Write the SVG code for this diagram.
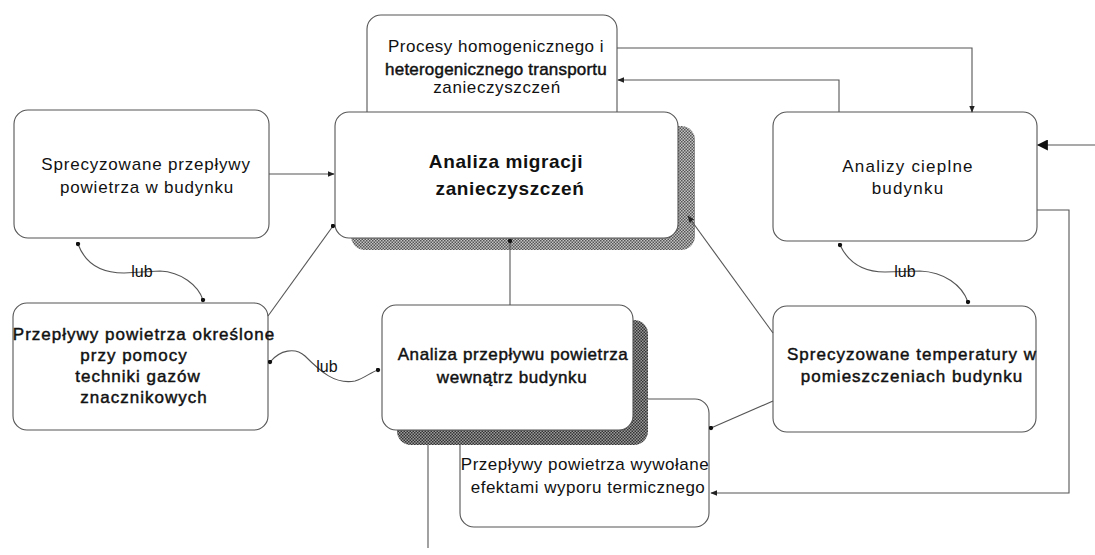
<svg xmlns="http://www.w3.org/2000/svg" width="1095" height="555" viewBox="0 0 1095 555">
  <style>
    .box { fill: #ffffff; stroke: #555555; stroke-width: 1.1; }
    .t { font-family: "Liberation Sans", Arial, sans-serif; font-size: 17px; fill: #111111; text-anchor: middle; letter-spacing: 0.6px; }
    .b { stroke: #111111; stroke-width: 0.45px; }
    .big { font-size: 19px; font-weight: bold; letter-spacing: 0.6px; }
    .lub { font-family: "Liberation Sans", Arial, sans-serif; font-size: 16px; fill: #111111; text-anchor: middle; }
    .ln { fill: none; stroke: #555555; stroke-width: 1.1; }
  </style>
  <defs>
    <pattern id="hatchLight" width="3" height="3" patternUnits="userSpaceOnUse">
      <rect width="3" height="3" fill="#c4c4c4"/>
      <rect x="0" y="0" width="1.5" height="1.5" fill="#555555"/>
      <rect x="1.5" y="1.5" width="1.5" height="1.5" fill="#555555"/>
    </pattern>
    <pattern id="hatchDark" width="3" height="3" patternUnits="userSpaceOnUse">
      <rect width="3" height="3" fill="#9a9a9a"/>
      <rect x="0" y="0" width="1.5" height="1.5" fill="#333333"/>
      <rect x="1.5" y="1.5" width="1.5" height="1.5" fill="#333333"/>
    </pattern>
    <marker id="dot" viewBox="0 0 6 6" refX="3" refY="3" markerWidth="5" markerHeight="5" markerUnits="userSpaceOnUse">
      <circle cx="3" cy="3" r="2.6" fill="#111"/>
    </marker>
    <marker id="arr" viewBox="0 0 10 10" refX="9" refY="5" markerWidth="7" markerHeight="7" markerUnits="userSpaceOnUse" orient="auto">
      <path d="M0,1 L10,5 L0,9 z" fill="#222"/>
    </marker>
    <marker id="arrBig" viewBox="0 0 10 10" refX="9" refY="5" markerWidth="13" markerHeight="11" markerUnits="userSpaceOnUse" orient="auto">
      <path d="M0,0 L10,5 L0,10 z" fill="#111"/>
    </marker>
  </defs>

  <rect width="1095" height="555" fill="#ffffff"/>

  <!-- transport processes (partly covered by the main node) -->
  <g id="node-procesy">
    <rect class="box" x="367" y="15" width="250" height="120" rx="14"/>
    <text class="t" x="496" y="52" style="letter-spacing:0.5px">Procesy homogenicznego i</text>
    <text class="t b" x="496" y="75" style="letter-spacing:0.2px">heterogenicznego transportu</text>
    <text class="t" x="497" y="93">zanieczyszczeń</text>
  </g>

  <!-- main node -->
  <g id="node-analiza-migracji">
    <rect x="351" y="126" width="344" height="124" rx="14" fill="url(#hatchLight)"/>
    <rect class="box" x="335" y="112" width="343" height="126" rx="14"/>
    <text class="t big" x="506" y="168">Analiza migracji</text>
    <text class="t big" x="510" y="195">zanieczyszczeń</text>
  </g>

  <g id="node-sprecyzowane-przeplywy">
    <rect class="box" x="14" y="110" width="255" height="128" rx="14"/>
    <text class="t" x="146" y="170" style="letter-spacing:0.8px">Sprecyzowane przepływy</text>
    <text class="t" x="147" y="193" style="letter-spacing:0.8px">powietrza w budynku</text>
  </g>

  <g id="node-analizy-cieplne">
    <rect class="box" x="773" y="112" width="264" height="129" rx="14"/>
    <text class="t" x="908" y="172" style="letter-spacing:1.2px">Analizy cieplne</text>
    <text class="t" x="908" y="194" style="letter-spacing:1.2px">budynku</text>
  </g>

  <g id="node-przeplywy-gazy">
    <rect class="box" x="13" y="303" width="255" height="127" rx="14"/>
    <text class="t b" x="144" y="340" style="letter-spacing:1px">Przepływy powietrza określone</text>
    <text class="t b" x="134" y="361" style="letter-spacing:1px">przy pomocy</text>
    <text class="t b" x="138" y="382" style="letter-spacing:1px">techniki gazów</text>
    <text class="t b" x="144" y="403" style="letter-spacing:1px">znacznikowych</text>
  </g>

  <g id="node-sprecyzowane-temperatury">
    <rect class="box" x="773" y="306" width="263" height="126" rx="14"/>
    <text class="t b" x="912" y="360" style="letter-spacing:1px">Sprecyzowane temperatury w</text>
    <text class="t b" x="912" y="382" style="letter-spacing:1px">pomieszczeniach budynku</text>
  </g>

  <!-- buoyancy flows (partly covered by the internal air flow node) -->
  <g id="node-przeplywy-wypor">
    <rect class="box" x="460" y="399" width="249" height="128" rx="14"/>
    <text class="t" x="585" y="470" style="letter-spacing:0.5px">Przepływy powietrza wywołane</text>
    <text class="t" x="588" y="493" style="letter-spacing:0.5px">efektami wyporu termicznego</text>
  </g>

  <g id="node-analiza-przeplywu">
    <rect x="397" y="320" width="251" height="125" rx="14" fill="url(#hatchDark)"/>
    <rect class="box" x="382" y="305" width="251" height="125" rx="14"/>
    <text class="t b" x="513" y="360" style="letter-spacing:0.6px">Analiza przepływu powietrza</text>
    <text class="t b" x="512" y="383" style="letter-spacing:0.6px">wewnątrz budynku</text>
  </g>

  <!-- connectors -->
  <g id="connectors">
    <!-- transport processes <-> thermal analyses -->
    <path class="ln" d="M617,48 H972 V112" marker-end="url(#arr)"/>
    <path class="ln" d="M839,112 V80 H618" marker-end="url(#arr)"/>
    <!-- external input into thermal analyses -->
    <path class="ln" d="M1095,145 H1038" marker-end="url(#arrBig)"/>
    <!-- thermal analyses -> buoyancy flows -->
    <path class="ln" d="M1037,210 H1069 V493 H711" marker-end="url(#arr)"/>
    <!-- specified air flows -> migration analysis -->
    <path class="ln" d="M269,174 H334" marker-end="url(#arr)"/>
    <!-- tracer gas flows -> migration analysis -->
    <path class="ln" d="M268,316 L333,226" marker-end="url(#dot)"/>
    <!-- internal air flow analysis -> migration analysis -->
    <path class="ln" d="M510,305 V241" marker-end="url(#dot)"/>
    <!-- specified temperatures -> migration analysis -->
    <path class="ln" d="M773,333 L688,216" marker-end="url(#arr)"/>
    <!-- specified temperatures -> buoyancy flows -->
    <path class="ln" d="M773,401 L711,428" marker-end="url(#dot)"/>
    <!-- output of internal air flow analysis -->
    <path class="ln" d="M428,445 V548"/>
    <!-- "lub" alternatives -->
    <path class="ln" d="M78,244 C85,263 101,273 124,273 L160,271 C181,272 198,285 203,300" marker-start="url(#dot)" marker-end="url(#dot)"/>
    <text class="lub" x="142" y="277">lub</text>
    <path class="ln" d="M270,362 C280,350 295,347 305,356 C320,371 335,385 355,381 C365,378 371,372 378,370" marker-start="url(#dot)" marker-end="url(#dot)"/>
    <text class="lub" x="327" y="372">lub</text>
    <path class="ln" d="M840,245 C848,262 862,272 885,272 L920,271 C944,272 962,285 968,302" marker-start="url(#dot)" marker-end="url(#dot)"/>
    <text class="lub" x="905" y="277">lub</text>
  </g>
</svg>
